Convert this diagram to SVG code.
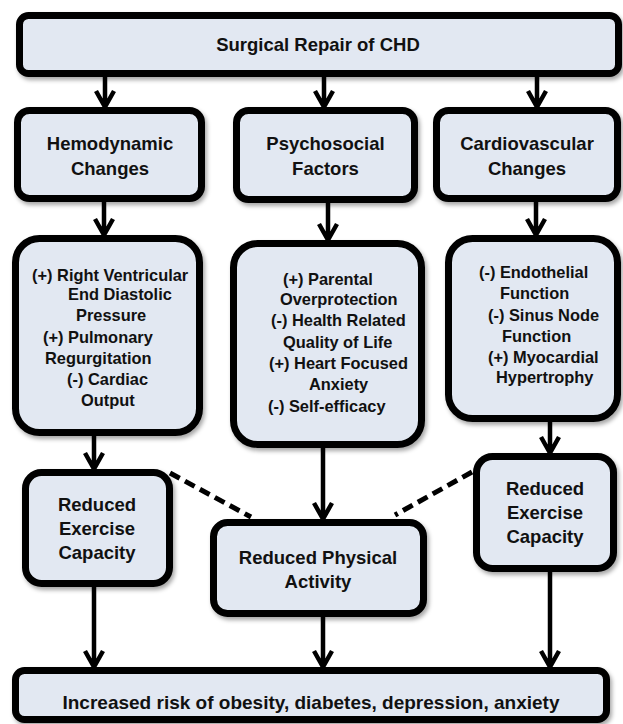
<svg xmlns="http://www.w3.org/2000/svg" width="623" height="724" viewBox="0 0 623 724">
  <defs>
    <filter id="shadow" x="-10%" y="-10%" width="125%" height="130%">
      <feDropShadow dx="2" dy="3" stdDeviation="2" flood-color="#000" flood-opacity="0.35"/>
    </filter>
  </defs>
  <style>
    .box { fill: #e2e8f2; stroke: #000; stroke-width: 7; filter: url(#shadow); }
    .t { font-family: "Liberation Sans", Arial, sans-serif; font-weight: bold; fill: #111; }
    .big { font-size: 18.5px; text-anchor: middle; }
    .small { font-size: 16.4px; }
    .edge { fill: none; stroke: #000; stroke-width: 4.5; stroke-linejoin: miter; }
    .dash { fill: none; stroke: #000; stroke-width: 5; stroke-dasharray: 11 6; }
  </style>

  <rect width="623" height="724" fill="#fff"/>

  <!-- connectors: vertical arrows with open V heads, plus two dashed links -->
  <g id="connectors">
    <path class="edge" d="M105,77 V105 M96,91 L105,107 L114,91"/>
    <path class="edge" d="M324,77 V105 M315,91 L324,107 L333,91"/>
    <path class="edge" d="M537,77 V105 M528,91 L537,107 L546,91"/>

    <path class="edge" d="M104,202 V233 M95,219 L104,235 L113,219"/>
    <path class="edge" d="M328,203 V238 M319,224 L328,240 L337,224"/>
    <path class="edge" d="M536,202 V233 M527,219 L536,235 L545,219"/>

    <path class="edge" d="M94,436 V467 M85,453 L94,469 L103,453"/>
    <path class="edge" d="M323,448 V517 M314,503 L323,519 L332,503"/>
    <path class="edge" d="M550,422 V451 M541,437 L550,453 L559,437"/>

    <path class="edge" d="M94,587 V665 M85,651 L94,667 L103,651"/>
    <path class="edge" d="M323,617 V665 M314,651 L323,667 L332,651"/>
    <path class="edge" d="M550,572 V665 M541,651 L550,667 L559,651"/>

    <path class="dash" d="M170,473 L251,517"/>
    <path class="dash" d="M472,472 L395,515"/>
  </g>

  <g id="surgical-repair">
    <rect class="box" x="19.5" y="15.5" width="599" height="58" rx="9"/>
    <text class="t big" x="318" y="51">Surgical Repair of CHD</text>
  </g>

  <g id="hemodynamic">
    <rect class="box" x="17.5" y="110.5" width="184" height="88" rx="12"/>
    <text class="t big" x="110" y="149.5">Hemodynamic</text>
    <text class="t big" x="110" y="174.5">Changes</text>
  </g>

  <g id="psychosocial">
    <rect class="box" x="236.5" y="110.5" width="178" height="89" rx="12"/>
    <text class="t big" x="325.5" y="149.5">Psychosocial</text>
    <text class="t big" x="325.5" y="174.5">Factors</text>
  </g>

  <g id="cardiovascular">
    <rect class="box" x="436.5" y="110.5" width="181" height="88" rx="12"/>
    <text class="t big" x="527" y="149.5">Cardiovascular</text>
    <text class="t big" x="527" y="174.5">Changes</text>
  </g>

  <g id="hemodynamic-effects">
    <rect class="box" x="15.5" y="238.5" width="184" height="194" rx="24"/>
    <text class="t small" x="32" y="281">(+) Right Ventricular</text>
    <text class="t small" x="68" y="300">End Diastolic</text>
    <text class="t small" x="76" y="321">Pressure</text>
    <text class="t small" x="43" y="343">(+) Pulmonary</text>
    <text class="t small" x="45" y="364">Regurgitation</text>
    <text class="t small" x="67" y="385">(-) Cardiac</text>
    <text class="t small" x="81" y="406">Output</text>
  </g>

  <g id="psychosocial-effects">
    <rect class="box" x="233.5" y="243.5" width="188" height="201" rx="24"/>
    <text class="t small" x="283" y="285">(+) Parental</text>
    <text class="t small" x="280" y="305">Overprotection</text>
    <text class="t small" x="271" y="326">(-) Health Related</text>
    <text class="t small" x="283" y="348">Quality of Life</text>
    <text class="t small" x="269" y="369">(+) Heart Focused</text>
    <text class="t small" x="309" y="390">Anxiety</text>
    <text class="t small" x="268" y="412">(-) Self-efficacy</text>
  </g>

  <g id="cardiovascular-effects">
    <rect class="box" x="448.5" y="238.5" width="169" height="180" rx="24"/>
    <text class="t small" x="479" y="278">(-) Endothelial</text>
    <text class="t small" x="500" y="299">Function</text>
    <text class="t small" x="488" y="321">(-) Sinus Node</text>
    <text class="t small" x="502" y="342">Function</text>
    <text class="t small" x="488" y="363">(+) Myocardial</text>
    <text class="t small" x="496" y="383">Hypertrophy</text>
  </g>

  <g id="exercise-capacity-left">
    <rect class="box" x="25.5" y="472.5" width="144" height="111" rx="16"/>
    <text class="t big" x="97" y="511">Reduced</text>
    <text class="t big" x="97" y="535">Exercise</text>
    <text class="t big" x="97" y="559">Capacity</text>
  </g>

  <g id="physical-activity">
    <rect class="box" x="213.5" y="522.5" width="210" height="91" rx="14"/>
    <text class="t big" x="318" y="564">Reduced Physical</text>
    <text class="t big" x="318" y="588">Activity</text>
  </g>

  <g id="exercise-capacity-right">
    <rect class="box" x="476.5" y="456.5" width="137" height="112" rx="16"/>
    <text class="t big" x="545" y="495">Reduced</text>
    <text class="t big" x="545" y="519">Exercise</text>
    <text class="t big" x="545" y="543">Capacity</text>
  </g>

  <g id="increased-risk">
    <rect class="box" x="15.5" y="670.5" width="591" height="49" rx="9"/>
    <text class="t" x="311" y="709" font-size="19" text-anchor="middle">Increased risk of obesity, diabetes, depression, anxiety</text>
  </g>
</svg>
